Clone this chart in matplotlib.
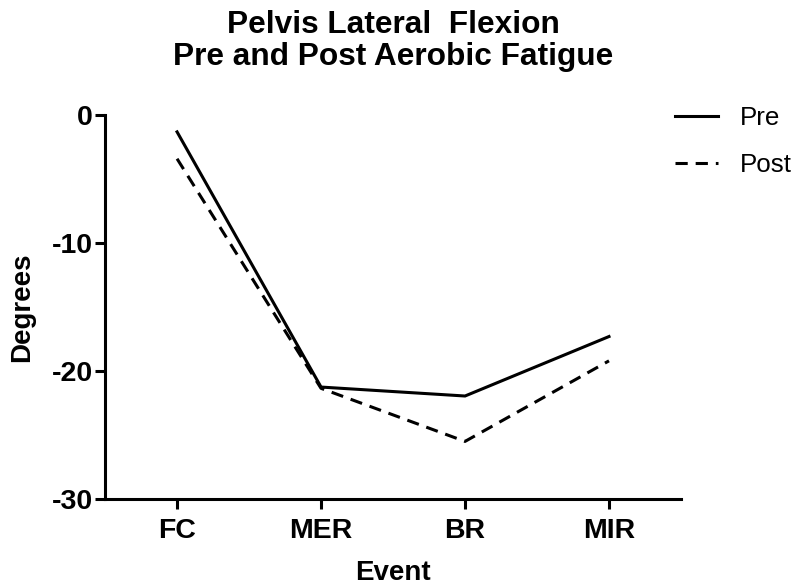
import numpy as np
from matplotlib import pyplot as plt, rcParams

rcParams['font.family'] = ['Liberation Sans', 'DejaVu Sans']
rcParams['axes.unicode_minus'] = False

events = ['FC', 'MER', 'BR', 'MIR']
pre = [-1.3, -21.25, -21.95, -17.3]
post = [-3.4, -21.35, -25.5, -19.2]


def pelvis_plot():
    x = np.arange(len(events))
    fig = plt.figure(figsize=(7.96, 5.88), dpi=100)
    ax = fig.add_axes([0.132, 0.1514, 0.7235, 0.6526])
    ax.plot(x, pre, color='k', lw=2.2, solid_joinstyle='miter', label='Pre')
    ax.plot(x, post, color='k', lw=2.2, linestyle=(0, (4, 2.6)), label='Post')

    ax.set_xlim(-0.5, 3.5)
    ax.set_ylim(-30, 0)
    ax.set_yticks([0, -10, -20, -30])
    ax.set_xticks(x)
    ax.set_xticklabels(events)
    for s in ['top', 'right']:
        ax.spines[s].set_visible(False)
    for s in ['left', 'bottom']:
        ax.spines[s].set_linewidth(2.2)
    ax.tick_params(width=2.2, length=7, labelsize=20.5)
    ax.tick_params(axis='x', pad=7)
    ax.tick_params(axis='y', pad=2)
    for lab in ax.get_xticklabels() + ax.get_yticklabels():
        lab.set_fontweight('bold')

    ax.set_xlabel('Event', fontsize=20, fontweight='bold', labelpad=11)
    ax.set_ylabel('Degrees', fontsize=20, fontweight='bold', labelpad=12)
    fig.text(0.494, 0.930, 'Pelvis Lateral  Flexion\nPre and Post Aerobic Fatigue',
             fontsize=22.8, fontweight='bold', ha='center', va='center',
             linespacing=1.08)

    ax.legend(loc='upper left', bbox_to_anchor=(0.848, 0.8195),
              bbox_transform=fig.transFigure, frameon=False,
              fontsize=18.7, handlelength=1.65, labelspacing=0.88,
              handletextpad=0.85, borderpad=0, borderaxespad=0)
    plt.savefig('out.png', dpi=100)


if __name__ == '__main__':
    pelvis_plot()
